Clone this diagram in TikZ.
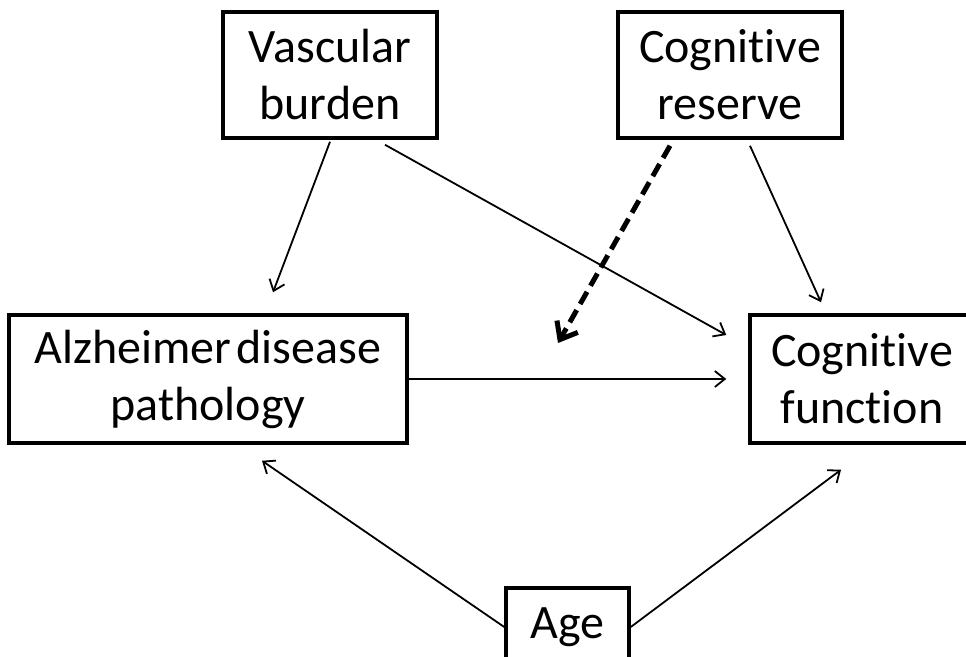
\documentclass[tikz,border=0pt]{standalone}
\usepackage{fontspec}
\setmainfont{Carlito}[Ligatures=NoCommon]
\usetikzlibrary{arrows.meta}
\begin{document}
\begin{tikzpicture}[x=1pt,y=-1pt,
  box/.style={draw, line width=3.5pt, align=center, inner sep=0pt, font=\fontsize{48}{57}\selectfont},
  arr/.style={line width=1.8pt, -{Straight Barb[length=10pt,width=16pt]}},
  modarr/.style={line width=5pt, dash pattern=on 14pt off 7pt, -{Straight Barb[length=15pt,width=24pt]}}]
\useasboundingbox[fill=white] (0,0) rectangle (966,656);
\node[box, minimum width=214pt, minimum height=126pt] (vb) at (330,75) {Vascular\\burden};
\node[box, minimum width=224pt, minimum height=126pt] (cr) at (730,75) {Cognitive\\reserve};
\node[box, minimum width=398pt, minimum height=128pt] (ad) at (208,379) {Alzheimer\hspace{-0.12em} disease\\pathology};
\node[box, minimum width=224pt, minimum height=128pt] (cf) at (862,379) {Cognitive\\function};
\node[box, minimum width=123pt, minimum height=78pt] (age) at (567.5,627) {Age};
\coordinate (mod) at (558,343);
\draw[arr] ([yshift=-2pt]vb.south) -- ([xshift=65pt,yshift=21pt]ad.north);
\draw[arr] ([xshift=55pt,yshift=-5pt]vb.south) -- ([xshift=-22pt,yshift=44pt]cf.west);
\draw[modarr] ([xshift=-60pt,yshift=-6pt]cr.south) -- (mod);
\draw[arr] ([xshift=20pt,yshift=-6pt]cr.south) -- ([xshift=-41pt,yshift=11pt]cf.north);
\draw[arr] (ad.east) -- ([xshift=-22pt]cf.west);
\draw[arr] (age.west) -- ([xshift=54pt,yshift=-16pt]ad.south);
\draw[arr] (age.east) -- ([xshift=-21pt,yshift=-25pt]cf.south);
\end{tikzpicture}
\end{document}
